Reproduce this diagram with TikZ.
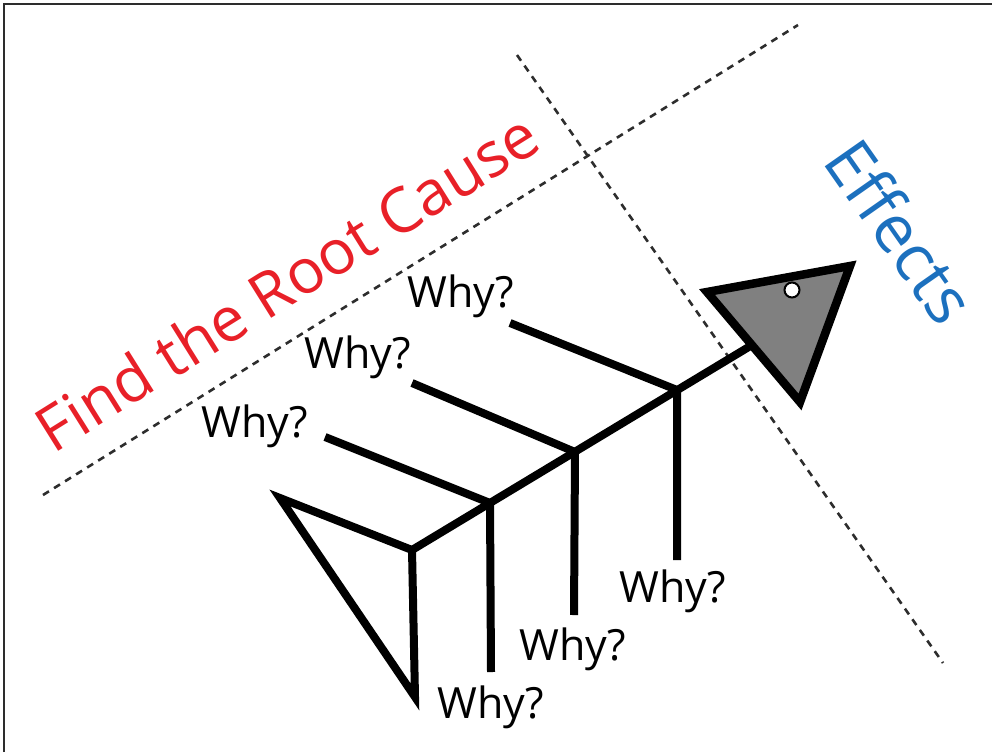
\documentclass[tikz,border=0pt]{standalone}
\usepackage{fontspec}
\setmainfont{Open Sans}
\usetikzlibrary{calc}

\definecolor{rootred}{RGB}{232,32,40}
\definecolor{effectblue}{RGB}{28,112,190}
\definecolor{headgray}{RGB}{128,128,128}
\definecolor{cutgray}{RGB}{45,45,45}
\newcommand{\whyfont}{\fontsize{43}{43}\selectfont}
\newcommand{\bigfont}{\fontsize{62}{62}\selectfont}

\begin{document}
\begin{tikzpicture}[x={(1pt,0pt)}, y={(0pt,-1pt)},
    bone/.style={line width=8pt, line join=miter},
    cutline/.style={cutgray, line width=2.6pt, dash pattern=on 7pt off 6pt},
    whytext/.style={font=\whyfont, anchor=base west, inner sep=0pt}]

    \useasboundingbox (0,0) rectangle (992,752);

    % --- Frame ---
    \draw[cutgray, line width=2pt] (4,752) -- (4,4.5) -- (992,4.5);

    % --- Dashed cut lines ---
    \draw[cutline] (43,495) -- (798,25);
    \draw[cutline] (517,55) -- (943,663);

    % --- Spine points ---
    \coordinate (tail) at (412,550);
    \coordinate (mouth) at (752,345);
    \coordinate (j1) at (490,503);
    \coordinate (j2) at (575,452);
    \coordinate (j3) at (677,390);
    \coordinate (u1) at (325,437);
    \coordinate (u2) at (412,383);
    \coordinate (u3) at (510,323);
    \coordinate (l1) at (491,672);
    \coordinate (l2) at (574,615);
    \coordinate (l3) at (677,560);

    % --- Ribs ---
    \foreach \j/\u/\l in {j1/u1/l1, j2/u2/l2, j3/u3/l3}
        \draw[bone] (\u) -- (\j) -- (\l);

    % --- Spine, tail and head ---
    \draw[bone] (tail) -- (mouth);
    \draw[bone] (280,498) -- (tail) -- (415,697) -- cycle;
    \draw[line width=8.5pt, line join=miter, fill=headgray] (707,292) -- (850,266) -- (800,402) -- cycle;
    \draw[line width=2pt, fill=white] (792,290) circle (7.5pt);

    % --- Why? labels ---
    \node[whytext] (why1) at (407,307) {Why?};
    \node[whytext] (why2) at (304,368) {Why?};
    \node[whytext] (why3) at (201,437) {Why?};
    \node[whytext] (why4) at (619,602) {Why?};
    \node[whytext] (why5) at (519,660) {Why?};
    \node[whytext] (why6) at (437,718) {Why?};

    % --- Titles ---
    \node[rootred, font=\bigfont, anchor=base, rotate=32] (root) at (299,301) {Find the Root Cause};
    \node[effectblue, font=\fontsize{66}{66}\selectfont, rotate=-55] (effects) at (901,231) {Effects};

\end{tikzpicture}
\end{document}
